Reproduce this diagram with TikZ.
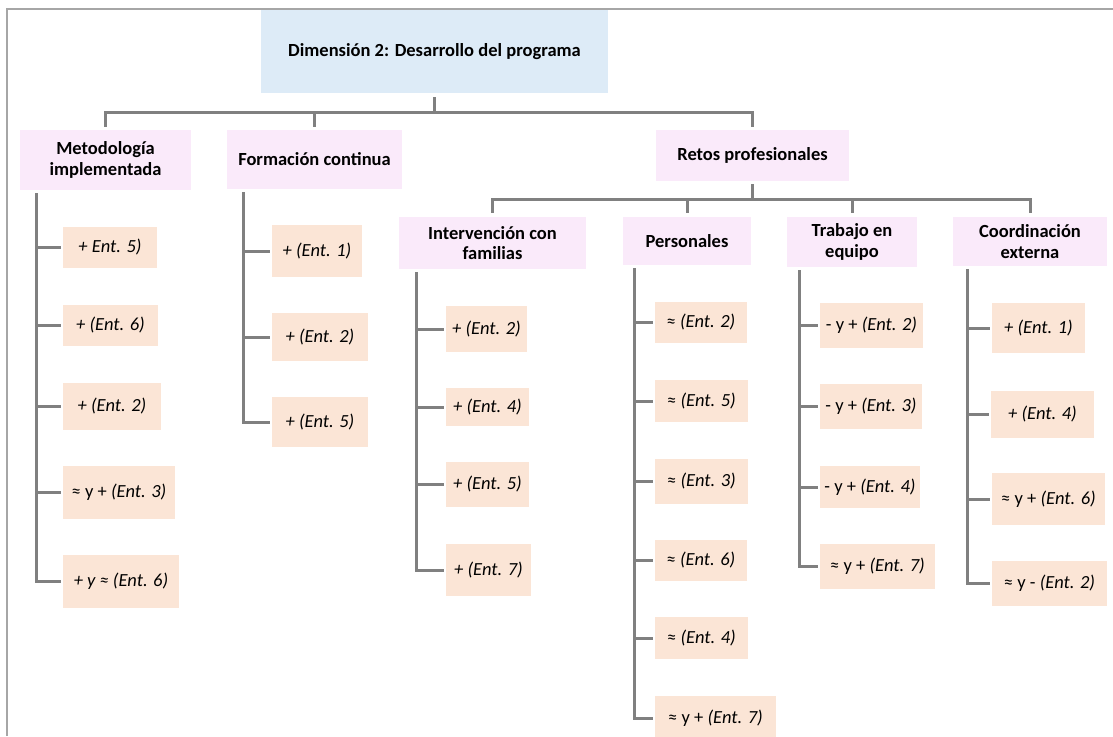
\documentclass[tikz,border=0pt]{standalone}
\usepackage{fontspec}
\setmainfont{Carlito}
\usetikzlibrary{calc}

\definecolor{titlefill}{HTML}{DDEBF7}
\definecolor{headfill}{HTML}{FAEAFA}
\definecolor{leaffill}{HTML}{FBE5D6}
\definecolor{linegray}{HTML}{808080}
\definecolor{framegray}{HTML}{A6A6A6}

\tikzset{
  titlebox/.style={fill=titlefill, inner sep=0pt, align=center,
    font=\fontsize{18.5}{21}\selectfont\bfseries},
  headbox/.style={fill=headfill, inner sep=0pt, align=center,
    font=\fontsize{18.5}{20.5}\selectfont\bfseries},
  leafbox/.style={fill=leaffill, inner sep=0pt, align=center,
    font=\fontsize{18.5}{21}\selectfont},
  sz/.style 2 args={minimum width=#1pt, minimum height=#2pt},
  conn/.style={draw=linegray, line width=3pt},
  branch/.style={conn, shorten <=4pt, shorten >=3pt},
  tick/.style={conn, shorten >=2pt},
  framerule/.style={draw=framegray, line width=1.5pt},
}

\begin{document}
\begin{tikzpicture}[x=1pt, y=-1pt]
\useasboundingbox (0,0) rectangle (1113,736);
\fill[white] (0,0) rectangle (1113,736);

% outer frame (left and top edges)
\draw[framerule] (7,736) -- (7,9) -- (1113,9);

% root
\node[titlebox, sz={347}{83}] (title) at (434.5,51.5) {Dimensión 2: Desarrollo del programa};

% first level
\node[headbox, sz={171}{60}] (met) at (105.5,160) {Metodología\\implementada};
\node[headbox, sz={175}{59}] (form) at (314.5,159.5) {Formación continua};
\node[headbox, sz={193}{51}] (retos) at (752.5,155.5) {Retos profesionales};

% second level under Retos profesionales
\node[headbox, sz={187}{52}] (interv) at (492.5,243) {Intervención con\\familias};
\node[headbox, sz={128}{48}] (pers) at (687,241) {Personales};
\node[headbox, sz={130}{50}] (trab) at (852,242) {Trabajo en\\equipo};
\node[headbox, sz={154}{49}] (coord) at (1030,241.5) {Coordinación\\externa};

% root -> first level
\foreach \n in {met,form,retos}
  \draw[branch] (title.south) -- ++(0,19) -| (\n.north);

% Retos -> second level
\foreach \n in {interv,pers,trab,coord}
  \draw[conn, shorten <=3pt, shorten >=4pt] (retos.south) -- ++(0,18) -| (\n.north);

% Metodología implementada
\node[leafbox, sz={94}{41}]  (m1) at (110,247.5)   {\itshape + Ent. 5)};
\node[leafbox, sz={95}{41}]  (m2) at (110.5,325.5) {\itshape + (Ent. 6)};
\node[leafbox, sz={98}{47}]  (m3) at (112,406.5)   {\itshape + (Ent. 2)};
\node[leafbox, sz={112}{53}] (m4) at (119,492.5)   {≈ y + \textit{(Ent. 3)}};
\node[leafbox, sz={116}{53}] (m5) at (121,581.5)   {\itshape + y ≈ (Ent. 6)};
\coordinate (mv) at (36,193);
\foreach \n in {m1,m2,m3,m4,m5}
  \draw[tick] (mv) |- (\n.west);

% Formación continua
\node[leafbox, sz={90}{52}] (f1) at (317,251) {\itshape + (Ent. 1)};
\node[leafbox, sz={96}{48}] (f2) at (320,337) {\itshape + (Ent. 2)};
\node[leafbox, sz={96}{50}] (f3) at (320,422) {\itshape + (Ent. 5)};
\coordinate (fv) at (243,192);
\foreach \n in {f1,f2,f3}
  \draw[tick] (fv) |- (\n.west);

% Intervención con familias
\node[leafbox, sz={81}{46}] (i1) at (486.5,329) {\itshape + (Ent. 2)};
\node[leafbox, sz={83}{38}] (i2) at (487.5,407) {\itshape + (Ent. 4)};
\node[leafbox, sz={83}{45}] (i3) at (487.5,484.5) {\itshape + (Ent. 5)};
\node[leafbox, sz={85}{52}] (i4) at (488.5,570) {\itshape + (Ent. 7)};
\coordinate (iv) at (416,272);
\foreach \n in {i1,i2,i3,i4}
  \draw[tick] (iv) |- (\n.west);

% Personales
\node[leafbox, sz={92}{41}]  (p1) at (701,322.5)   {≈ \textit{(Ent. 2)}};
\node[leafbox, sz={93}{42}]  (p2) at (701.5,401)   {≈ \textit{(Ent. 5)}};
\node[leafbox, sz={93}{45}]  (p3) at (701.5,481.5) {≈ \textit{(Ent. 3)}};
\node[leafbox, sz={92}{41}]  (p4) at (701,560.5)   {≈ \textit{(Ent. 6)}};
\node[leafbox, sz={93}{42}]  (p5) at (701.5,638)   {≈ \textit{(Ent. 4)}};
\node[leafbox, sz={121}{44}] (p6) at (715.5,718)   {≈ y + \textit{(Ent. 7)}};
\coordinate (pv) at (634,268);
\foreach \n in {p1,p2,p3,p4,p5,p6}
  \draw[tick] (pv) |- (\n.west);

% Trabajo en equipo
\node[leafbox, sz={103}{45}] (t1) at (871.5,325.5) {- y + \textit{(Ent. 2)}};
\node[leafbox, sz={102}{45}] (t2) at (871,406.5)   {- y + \textit{(Ent. 3)}};
\node[leafbox, sz={100}{42}] (t3) at (870,487)     {- y + \textit{(Ent. 4)}};
\node[leafbox, sz={115}{45}] (t4) at (877.5,566.5) {≈ y + \textit{(Ent. 7)}};
\coordinate (tv) at (799,270);
\foreach \n in {t1,t2,t3,t4}
  \draw[tick] (tv) |- (\n.west);

% Coordinación externa
\node[leafbox, sz={93}{50}]  (c1) at (1038.5,328)   {\itshape + (Ent. 1)};
\node[leafbox, sz={103}{47}] (c2) at (1042.5,414.5) {\itshape + (Ent. 4)};
\node[leafbox, sz={113}{52}] (c3) at (1048.5,499)   {≈ y + \textit{(Ent. 6)}};
\node[leafbox, sz={115}{45}] (c4) at (1049.5,583.5) {≈ y - \textit{(Ent. 2)}};
\coordinate (cv) at (967,269);
\foreach \n in {c1,c2,c3,c4}
  \draw[tick] (cv) |- (\n.west);
\end{tikzpicture}
\end{document}
